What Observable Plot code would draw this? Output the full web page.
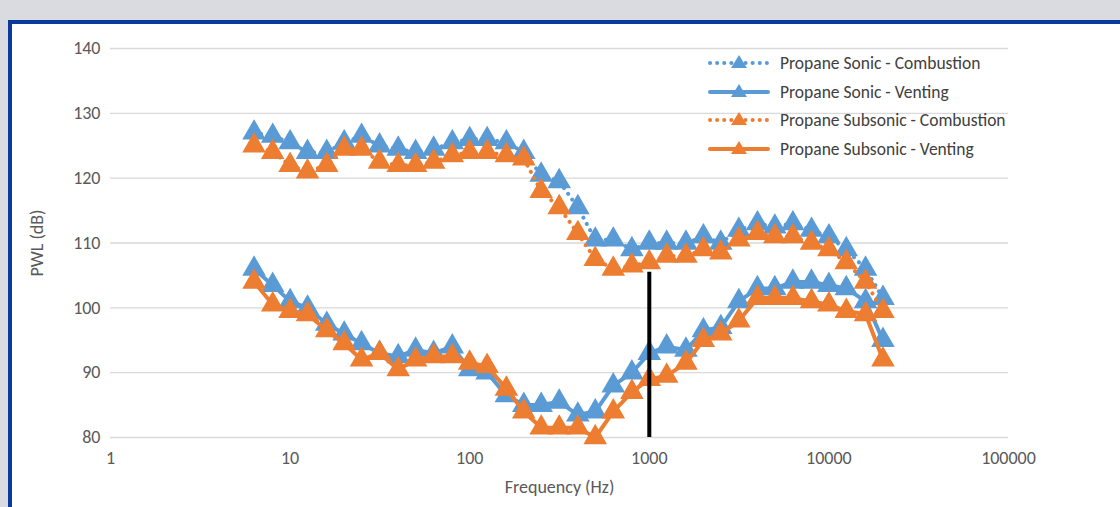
<!DOCTYPE html>
<html><head><meta charset="utf-8">
<script src="https://cdn.jsdelivr.net/npm/d3@7"></script>
<script src="https://cdn.jsdelivr.net/npm/@observablehq/plot@0.6"></script>
<style>
body{margin:0;width:1120px;height:507px;overflow:hidden;background:#d9dbe0;font-family:Calibri,"Liberation Sans",Arial,sans-serif;}
#frame{position:absolute;left:8px;top:20px;width:1130px;height:510px;background:#fff;border:4px solid #0a3a9c;}
#chart{position:absolute;left:12px;top:24px;}
#legend{position:absolute;left:706px;top:49px;font-size:17.5px;color:#404040;}
.row{height:28.5px;display:flex;align-items:center;}
.row svg{margin-right:8px;}
</style></head><body>
<div id="frame"></div>
<div id="chart"></div>
<div id="legend"></div>
<script>
const freqs=[6.3,8,10,12.5,16,20,25,31.5,40,50,63,80,100,125,160,200,250,315,400,500,630,800,1000,1250,1600,2000,2500,3150,4000,5000,6300,8000,10000,12500,16000,20000];
const sonicComb=[127,126.5,125.5,124,124,125.5,126.5,125,124.5,124,124.5,125.5,126,126,125.5,124,120.5,119.5,115.5,110.5,110.5,109,110,110,110,111,110,112,113,112.5,113,112,111,109,106,101.5];
const sonicVent=[106,103.5,101,100,97.5,96,94.5,93,92.5,93.5,93,94,90.5,90,86.5,85,85,85.5,83.5,84,88,90,93,94,93.5,96.5,97,101,103,103,104,104,103.5,103,101,95];
const subComb=[125,124,122,121,122,124.5,124.5,122.5,122,122,122.5,123.5,124,124,123.5,123,118,115.5,111.5,107.5,106,106.5,107,108,108,109,108.5,110.5,111.5,111,111,110,109,107,104,99.5];
const subVent=[104,100.5,99.5,99,96.5,94.5,92,93,90.5,92,92.5,92.5,91.5,91,87.5,84,81.5,81.5,81.5,80,84,87,89,89.5,91.5,95,96,98,101.5,101.5,101.5,101,100.5,99.5,99,92];
const seriesNames=["Propane Sonic - Combustion","Propane Sonic - Venting","Propane Subsonic - Combustion","Propane Subsonic - Venting"];
const seriesVals=[sonicComb,sonicVent,subComb,subVent];
const colors=["#5B9BD5","#5B9BD5","#ED7D31","#ED7D31"];
const dotted=[true,false,true,false];
const xTicks=[1,10,100,1000,10000,100000];
const yTicks=[80,90,100,110,120,130,140];
const refLine=[{x:1000,y1:80,y2:105.5}];

const marks=[Plot.gridY(yTicks,{stroke:"#d9d9d9",strokeOpacity:1,strokeWidth:1.3})];
const order=[1,3,0,2];
for(const i of order){
  const data=freqs.map((f,j)=>({f,v:seriesVals[i][j]}));
  marks.push(Plot.line(data,{x:"f",y:"v",stroke:colors[i],strokeWidth:4,strokeDasharray:dotted[i]?"0.1 7":null,strokeLinecap:"round"}));
  marks.push(Plot.dot(data,{x:"f",y:"v",symbol:"triangle",r:7.8,fill:colors[i],stroke:colors[i]}));
}
marks.push(Plot.ruleX(refLine,{x:"x",y1:"y1",y2:"y2",stroke:"#000",strokeWidth:4}));
const chart=Plot.plot({
  width:1100,height:483,marginLeft:98,marginTop:24,marginRight:104,marginBottom:70,
  style:{fontSize:"16px",fontFamily:"Calibri,'Liberation Sans',Arial,sans-serif",color:"#595959",background:"transparent"},
  x:{type:"log",domain:[1,100000],ticks:xTicks,tickFormat:d=>String(d),tickSize:0,label:"Frequency (Hz)",labelArrow:"none",labelAnchor:"center",labelOffset:55,tickPadding:14},
  y:{domain:[80,140],ticks:yTicks,tickSize:0,label:"PWL (dB)",labelArrow:"none",labelAnchor:"center",labelOffset:80,tickPadding:10},
  marks
});
chart.querySelectorAll("g[aria-label$='label'] text").forEach(t=>t.style.fontSize="18px");
document.getElementById("chart").appendChild(chart);
const lg=document.getElementById("legend");
seriesNames.forEach((n,i)=>{
  const r=document.createElement("div");r.className="row";
  r.innerHTML=`<svg width="66" height="20"><line x1="4" x2="62" y1="10" y2="10" stroke="${colors[i]}" stroke-width="4" stroke-linecap="round" ${dotted[i]?'stroke-dasharray="0.1 7"':''}/><path d="M33 2 L41 15 L25 15 Z" fill="${colors[i]}"/></svg><span>${n}</span>`;
  lg.appendChild(r);
});
</script></body></html>
